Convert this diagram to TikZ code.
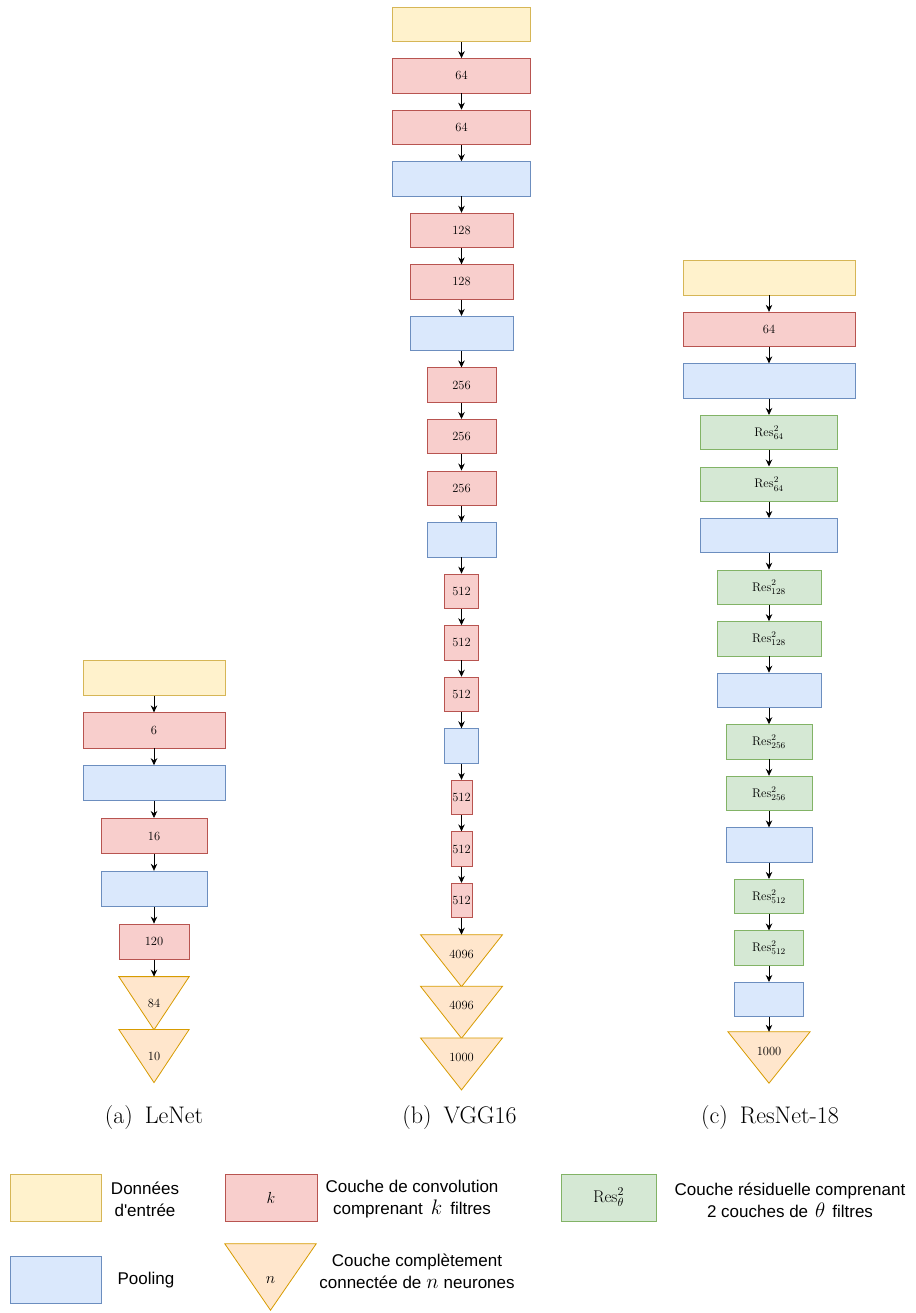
\RequirePackage{fix-cm}
\documentclass[tikz,border=0pt]{standalone}
\usepackage{fontspec}
\newfontfamily\legfont{Liberation Sans}
\usetikzlibrary{arrows.meta}
\definecolor{inpfill}{HTML}{FFF2CC}\definecolor{inpdraw}{HTML}{D6B656}
\definecolor{convfill}{HTML}{F8CECC}\definecolor{convdraw}{HTML}{B85450}
\definecolor{poolfill}{HTML}{DAE8FC}\definecolor{pooldraw}{HTML}{6C8EBF}
\definecolor{resfill}{HTML}{D5E8D4}\definecolor{resdraw}{HTML}{82B366}
\definecolor{fcfill}{HTML}{FFE6CC}\definecolor{fcdraw}{HTML}{D79B00}
\newcommand{\legmath}[1]{{\fontsize{21}{22}\selectfont$#1$}}
\begin{document}
\begin{tikzpicture}[x=1pt,y=-1pt,
  box/.style={rectangle, line width=0.8pt, inner sep=0pt, minimum height=34.4pt, font=\fontsize{12.5}{14}\selectfont},
  inp/.style={box, fill=inpfill, draw=inpdraw},
  conv/.style={box, fill=convfill, draw=convdraw},
  pool/.style={box, fill=poolfill, draw=pooldraw},
  res/.style={box, fill=resfill, draw=resdraw},
  fcn/.style={rectangle, inner sep=0pt},
  tri/.style={fill=fcfill, draw=fcdraw, line width=0.8pt, line join=miter},
  lbl/.style={inner sep=0pt, font=\fontsize{12.5}{14}\selectfont},
  arr/.style={-{Stealth[length=7pt,width=6.5pt]}, line width=0.8pt, black},
  captxt/.style={inner sep=0pt, font=\fontsize{24}{28}\selectfont},
  leg/.style={inner sep=0pt, align=center, font=\legfont\fontsize{17}{22}\selectfont},
  legbox/.style={minimum height=47pt},
  leglbl/.style={font=\fontsize{16}{18}\selectfont}
]
\useasboundingbox (0,0) rectangle (915,1313);

% ---------------- LeNet ----------------
\foreach \i/\s/\w/\t in {0/inp/142/{},1/conv/142/6,2/pool/142/{},3/conv/106/16,4/pool/106/{},5/conv/70/120}
  \node[\s, minimum width=\w pt, minimum height=35.2pt] (a\i) at (154, 677.6+\i*52.8) {\t};
\node[fcn, minimum width=70pt, minimum height=52.8pt] (a6) at (154, 1003.2) {};
\node[fcn, minimum width=70pt, minimum height=52.8pt] (a7) at (154, 1056.0) {};
\foreach \n in {a6,a7}
  \filldraw[tri] (\n.north west) -- (\n.north east) -- (\n.south) -- cycle;
\node[lbl] (a6t) at (154, 1003.2) {84};
\node[lbl] (a7t) at (154, 1056.0) {10};
\foreach \i/\j in {0/1,1/2,2/3,3/4,4/5,5/6}
  \draw[arr] (a\i.south) -- (a\j.north);
\node[captxt] (capa) at (154, 1117) {(a)\hspace{0.5em}LeNet};

% ---------------- VGG16 ----------------
\foreach \i/\s/\w/\t in {0/inp/138/{},1/conv/138/64,2/conv/138/64,3/pool/138/{},
  4/conv/103.2/128,5/conv/103.2/128,6/pool/103.2/{},
  7/conv/68.8/256,8/conv/68.8/256,9/conv/68.8/256,10/pool/68.8/{},
  11/conv/34.4/512,12/conv/34.4/512,13/conv/34.4/512,14/pool/34.4/{},
  15/conv/21/512,16/conv/21/512,17/conv/21/512}
  \node[\s, minimum width=\w pt] (b\i) at (461.5, 24.2+\i*51.55) {\t};
\foreach \i/\y in {18/934.9,19/986.5,20/1038.1}
  \node[fcn, minimum width=81.6pt, minimum height=51.6pt] (b\i) at (461.5, \y+25.8) {};
\foreach \n in {b18,b19,b20}
  \filldraw[tri] (\n.north west) -- (\n.north east) -- (\n.south) -- cycle;
\node[lbl] (b18t) at (461.5, 954) {4096};
\node[lbl] (b19t) at (461.5, 1005.6) {4096};
\node[lbl] (b20t) at (461.5, 1057.2) {1000};
\foreach \i/\j in {0/1,1/2,2/3,3/4,4/5,5/6,6/7,7/8,8/9,9/10,10/11,11/12,12/13,13/14,14/15,15/16,16/17,17/18}
  \draw[arr] (b\i.south) -- (b\j.north);
\node[captxt] (capb) at (459.5, 1117) {(b)\hspace{0.5em}VGG16};

% ---------------- ResNet-18 ----------------
\foreach \i/\s/\w/\t in {0/inp/172/{},1/conv/172/64,2/pool/172/{},
  3/res/137/{$\mathrm{Res}^2_{64}$},4/res/137/{$\mathrm{Res}^2_{64}$},5/pool/137/{},
  6/res/104/{$\mathrm{Res}^2_{128}$},7/res/104/{$\mathrm{Res}^2_{128}$},8/pool/104/{},
  9/res/86/{$\mathrm{Res}^2_{256}$},10/res/86/{$\mathrm{Res}^2_{256}$},11/pool/86/{},
  12/res/69.5/{$\mathrm{Res}^2_{512}$},13/res/69.5/{$\mathrm{Res}^2_{512}$},14/pool/69.5/{}}
  \node[\s, minimum width=\w pt] (c\i) at (769, 277.9+\i*51.55) {\t};
\node[fcn, minimum width=81.7pt, minimum height=51pt] (c15) at (769, 1057.5) {};
\filldraw[tri] (c15.north west) -- (c15.north east) -- (c15.south) -- cycle;
\node[lbl] (c15t) at (769, 1051) {1000};
\foreach \i/\j in {0/1,1/2,2/3,3/4,4/5,5/6,6/7,7/8,8/9,9/10,10/11,11/12,12/13,13/14,14/15}
  \draw[arr] (c\i.south) -- (c\j.north);
\node[captxt] (capc) at (770, 1117) {(c)\hspace{0.5em}ResNet-18};

% ---------------- Legend ----------------
\node[inp, legbox, minimum width=91pt] (linp) at (55.5, 1197.5) {};
\node[leg] (linpt) at (145, 1199) {Données\\d'entrée};
\node[conv, legbox, leglbl, minimum width=92pt] (lconv) at (271, 1197.5) {$k$};
\node[leg] (lconvt) at (412, 1199) {Couche de convolution\\comprenant\hspace{8pt}\legmath{k}\hspace{8pt}filtres};
\node[res, legbox, minimum width=95pt, font=\fontsize{17}{19}\selectfont] (lres) at (608.5, 1197.5) {$\mathrm{Res}^2_{\theta}$};
\node[leg] (lrest) at (790, 1200) {Couche résiduelle comprenant\\2 couches de\hspace{7pt}\legmath{\theta}\hspace{7pt}filtres};
\node[pool, legbox, minimum width=91pt] (lpool) at (55.5, 1279.5) {};
\node[leg] (lpoolt) at (146, 1280) {Pooling};
\node[fcn, minimum width=91pt, minimum height=66pt] (lfc) at (270.5, 1277) {};
\filldraw[tri] (lfc.north west) -- (lfc.north east) -- (lfc.south) -- cycle;
\node[lbl, leglbl] (lfcn) at (270.5, 1280) {$n$};
\node[leg] (lfct) at (417, 1271) {Couche complètement\\connectée de\hspace{5pt}\legmath{n}\hspace{5pt}neurones};
\end{tikzpicture}
\end{document}
